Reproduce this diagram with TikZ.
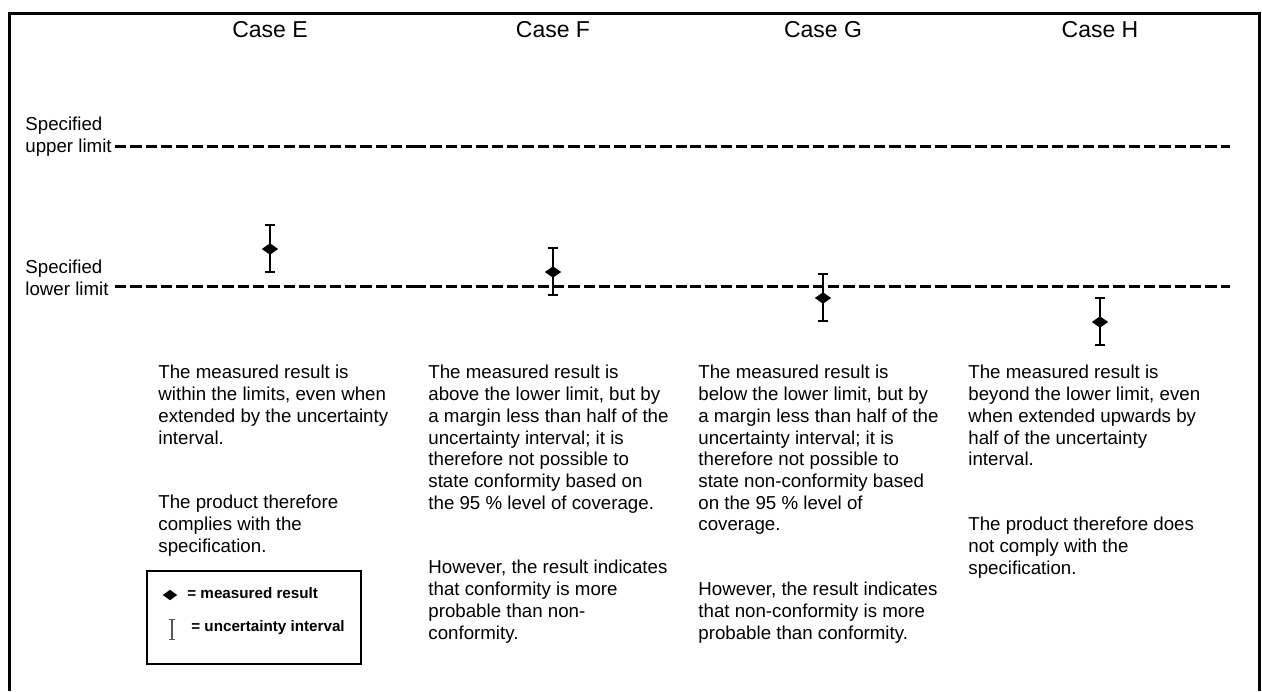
\documentclass[tikz,border=0pt]{standalone}
\usepackage{fontspec}
\setmainfont{Liberation Sans}
\usetikzlibrary{arrows.meta,shapes.geometric}

\begin{document}
\begin{tikzpicture}[x=0.5pt, y=-0.5pt,
                every node/.append style={inner sep=0pt},
                txt/.style={align=left, anchor=north west, font=\fontsize{9.35}{10.85}\selectfont},
                lbl/.style={align=left, anchor=west, font=\fontsize{9.35}{10.85}\selectfont},
                title/.style={font=\fontsize{11.5}{13}\selectfont},
                key/.style={anchor=west, font=\fontsize{7.6}{9}\selectfont\bfseries},
                lim/.style={dash pattern=on 5.67pt off 2pt, line width=1.5pt},
                bar/.style={line width=1pt, {Bar[width=5pt]}-{Bar[width=5pt]}},
                res/.style={diamond, fill=black, minimum width=8.35pt, minimum height=5.85pt}]

\useasboundingbox (0,0) rectangle (1262,691);
\draw[line width=1.35pt] (9.5,691) -- (9.5,13.5) -- (1259.5,13.5) -- (1259.5,691);

% titles
\node[title] (caseE) at (270,30) {Case E};
\node[title] (caseF) at (553,30) {Case F};
\node[title] (caseG) at (823,30) {Case G};
\node[title] (caseH) at (1100,30) {Case H};

% limits
\node[lbl] (upper) at (25,137) {Specified\\upper limit};
\node[lbl] (lower) at (25,278) {Specified\\lower limit};
\foreach \a/\b in {115/415, 415/690, 690/960, 960/1230} {
  \draw[lim] (\a,146) -- (\b,146);
  \draw[lim] (\a,286) -- (\b,286);
}

% results with uncertainty
\foreach \c/\x/\y in {E/270/249, F/553/272, G/823/298, H/1100/322} {
  \coordinate (u\c) at (\x,{\y-25});
  \coordinate (l\c) at (\x,{\y+24});
  \draw[bar] (u\c) -- (l\c);
  \node[res] (m\c) at (\x,\y) {};
}

% case E
\node[txt] (e1) at (158,365) {The measured result is\\within the limits, even when\\extended by the uncertainty\\interval.};
\node[txt] (e2) at (158,495) {The product therefore\\complies with the\\specification.};

% case F
\node[txt] (f1) at (428,365) {The measured result is\\above the lower limit, but by\\a margin less than half of the\\uncertainty interval; it is\\therefore not possible to\\state conformity based on\\the 95 \% level of coverage.};
\node[txt] (f2) at (428,560) {However, the result indicates\\that conformity is more\\probable than non-\\conformity.};

% case G
\node[txt] (g1) at (698,365) {The measured result is\\below the lower limit, but by\\a margin less than half of the\\uncertainty interval; it is\\therefore not possible to\\state non-conformity based\\on the 95 \% level of\\coverage.};
\node[txt] (g2) at (698,582) {However, the result indicates\\that non-conformity is more\\probable than conformity.};

% case H
\node[txt] (h1) at (968,365) {The measured result is\\beyond the lower limit, even\\when extended upwards by\\half of the uncertainty\\interval.};
\node[txt] (h2) at (968,517) {The product therefore does\\not comply with the\\specification.};

% legend
\node[draw, line width=1pt, anchor=north west, minimum width=107pt, minimum height=46.5pt] (legend) at (146,570) {};
\node[res, minimum width=7.35pt, minimum height=5.35pt] (kres) at (170,595) {};
\node[key] (kresl) at (187,593) {= measured result};
\coordinate (ku) at (172,619);
\coordinate (kl) at (172,640);
\draw[gray!70!black, line width=0.6pt, {Bar[width=3pt]}-{Bar[width=3pt]}] (ku) -- (kl);
\node[key] (kunc) at (191,628) {= uncertainty interval};

\end{tikzpicture}
\end{document}
